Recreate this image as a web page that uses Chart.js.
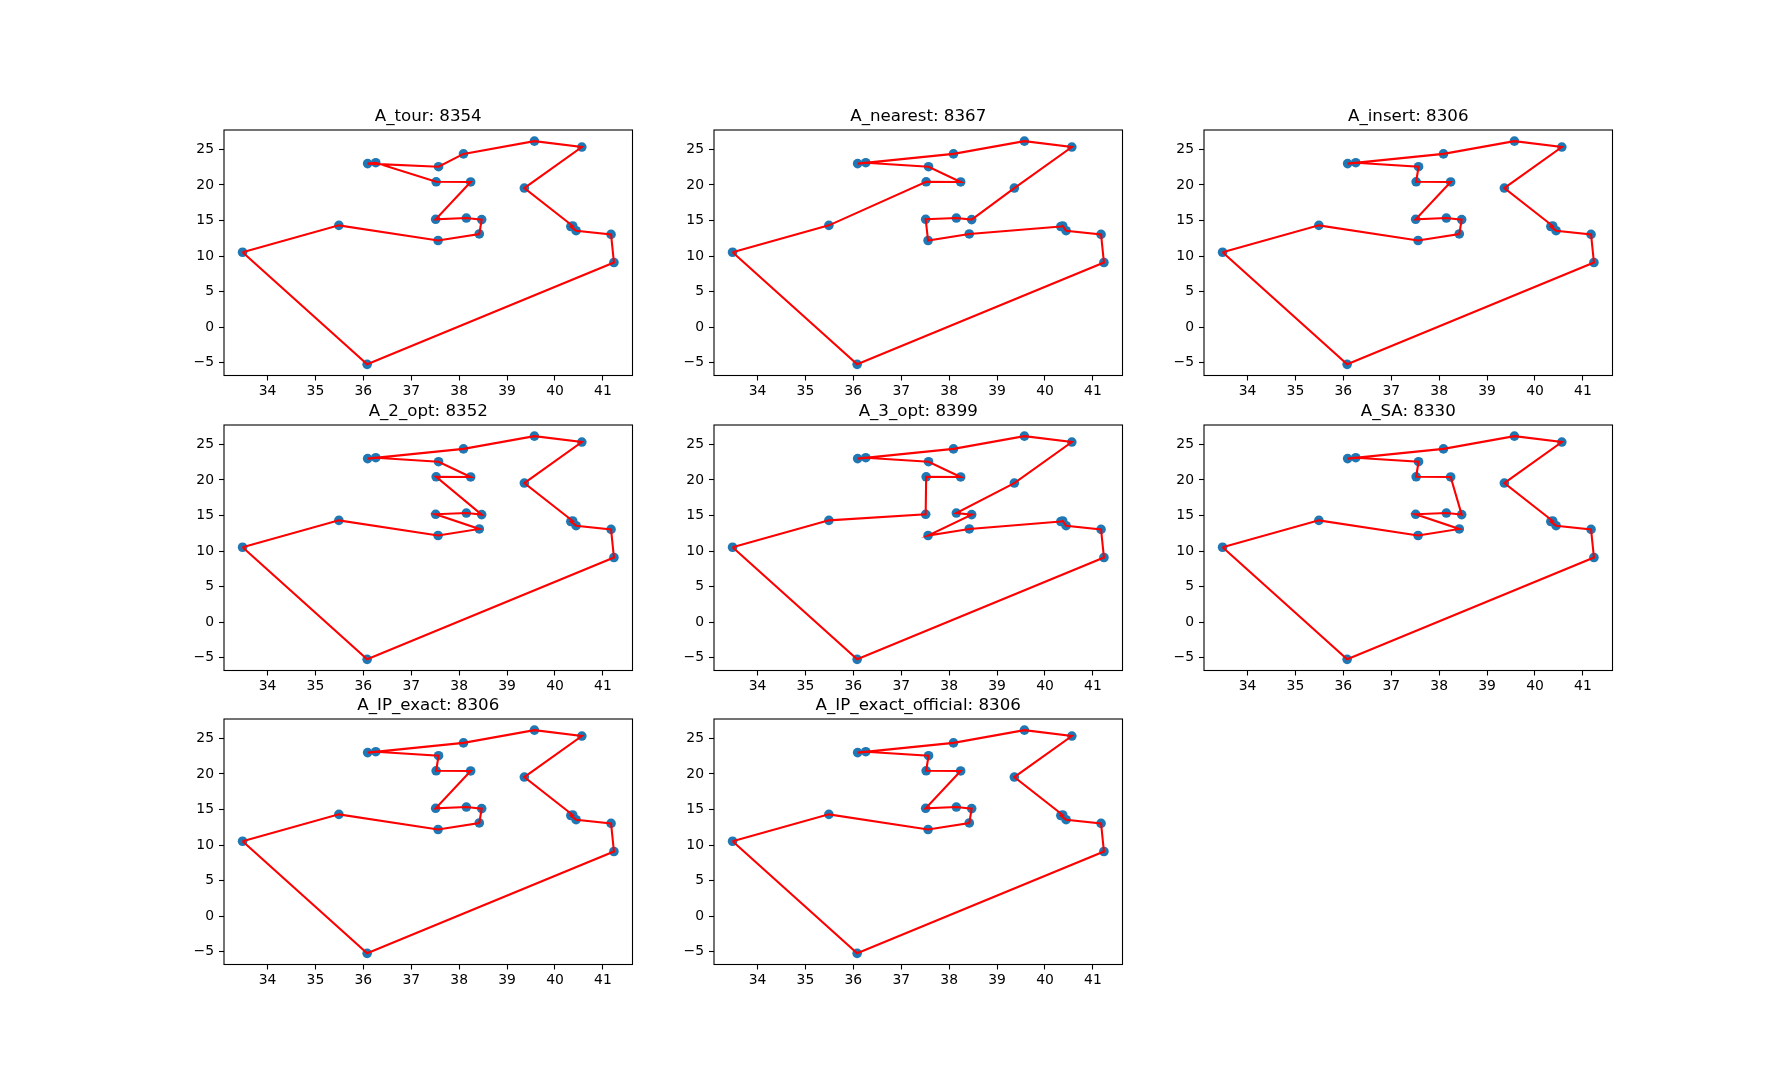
<!DOCTYPE html>
<html>
<head>
<meta charset="utf-8">
<title>TSP tours</title>
<script src="https://cdn.jsdelivr.net/npm/chart.js@4.4.1/dist/chart.umd.min.js"></script>
<style>
  html, body { margin: 0; padding: 0; background: #fff; }
  body { width: 1792px; height: 1084px; position: relative; overflow: hidden; }
  canvas { position: absolute; }
</style>
</head>
<body>
<script>
// city coordinates (22 cities)
const cityX = [38.24, 39.57, 40.56, 36.26, 33.48, 37.56, 38.42, 37.52, 41.23, 41.17, 36.08,
               38.47, 38.15, 37.51, 35.49, 39.36, 38.09, 36.09, 40.44, 40.33, 40.37, 37.57];
const cityY = [20.42, 26.15, 25.32, 23.12, 10.54, 12.19, 13.11, 20.44, 9.10, 13.05, -5.21,
               15.13, 15.35, 15.17, 14.32, 19.56, 24.36, 23.00, 13.57, 14.15, 14.23, 22.56];

const methods = ["A_tour", "A_nearest", "A_insert", "A_2_opt", "A_3_opt", "A_SA", "A_IP_exact", "A_IP_exact_official"];
const lengths = [8354, 8367, 8306, 8352, 8399, 8330, 8306, 8306];

// visiting order per method, 1-based city numbers
const tourA       = [5, 15, 6, 7, 12, 13, 14, 1, 8, 4, 18, 22, 17, 2, 3, 16, 21, 20, 19, 10, 9, 11];
const tourNearest = [5, 15, 8, 1, 22, 4, 18, 17, 2, 3, 16, 12, 13, 14, 6, 7, 20, 21, 19, 10, 9, 11];
const tourInsert  = [5, 15, 6, 7, 12, 13, 14, 1, 8, 22, 4, 18, 17, 2, 3, 16, 21, 20, 19, 10, 9, 11];
const tour2opt    = [5, 15, 6, 7, 14, 13, 12, 8, 1, 22, 4, 18, 17, 2, 3, 16, 21, 20, 19, 10, 9, 11];
const tour3opt    = [5, 15, 14, 8, 1, 22, 4, 18, 17, 2, 3, 16, 13, 12, 6, 7, 20, 21, 19, 10, 9, 11];
const tourSA      = [5, 15, 6, 7, 14, 13, 12, 1, 8, 22, 4, 18, 17, 2, 3, 16, 21, 20, 19, 10, 9, 11];
const tourIP      = [5, 15, 6, 7, 12, 13, 14, 1, 8, 22, 4, 18, 17, 2, 3, 16, 21, 20, 19, 10, 9, 11];
const tourIPoff   = [5, 15, 6, 7, 12, 13, 14, 1, 8, 22, 4, 18, 17, 2, 3, 16, 21, 20, 19, 10, 9, 11];
const tours = [tourA, tourNearest, tourInsert, tour2opt, tour3opt, tourSA, tourIP, tourIPoff];

const xTicks = [34, 35, 36, 37, 38, 39, 40, 41];
const yTicks = [-5, 0, 5, 10, 15, 20, 25];

// axis limits (data range + 5% margin)
const xMin = 33.0925, xMax = 41.6175;
const yMin = -6.778, yMax = 27.718;

Chart.defaults.font.family = "'DejaVu Sans', sans-serif";
Chart.defaults.color = "#000";

// subplot grid 3x3 (left .125, right .9, top .88, bottom .11, spacing .2)
const axW = 408.5, axH = 245.5;
const colLeft = [224, 714, 1204];
const rowTop = [130, 425, 719];
const padL = 60, padT = 30, padB = 35.5, padR = 10.5;

const frame = {
  id: "frame",
  afterDraw(chart) {
    const { ctx, chartArea: a } = chart;
    ctx.save();
    ctx.strokeStyle = "#000";
    ctx.lineWidth = 1.1;
    ctx.strokeRect(a.left, a.top, a.right - a.left, a.bottom - a.top);
    ctx.restore();
  }
};

const cities = cityX.map((x, i) => ({ x: x, y: cityY[i] }));
const minus = v => String(v).replace("-", "\u2212");

methods.forEach((name, k) => {
  const c = document.createElement("canvas");
  const w = padL + axW + padR, h = padT + axH + padB;
  c.width = Math.ceil(w);
  c.height = Math.ceil(h);
  c.style.left = (colLeft[k % 3] - padL) + "px";
  c.style.top = (rowTop[Math.floor(k / 3)] - padT) + "px";
  document.body.appendChild(c);

  const order = tours[k].concat([tours[k][0]]);
  const path = order.map(n => ({ x: cityX[n - 1], y: cityY[n - 1] }));

  new Chart(c, {
    type: "scatter",
    data: {
      datasets: [
        {
          data: path,
          showLine: true,
          borderColor: "#ff0000",
          borderWidth: 2.1,
          pointRadius: 0,
          pointHoverRadius: 0,
          tension: 0
        },
        {
          data: cities,
          backgroundColor: "#1f77b4",
          borderWidth: 0,
          pointRadius: 4.8,
          pointHoverRadius: 4.8
        }
      ]
    },
    options: {
      responsive: false,
      animation: false,
      events: [],
      layout: { padding: { left: 0, top: 0, right: c.width - padL - axW, bottom: 0 } },
      plugins: {
        legend: { display: false },
        tooltip: { enabled: false },
        title: {
          display: true,
          fullSize: false,
          text: name + ": " + lengths[k],
          color: "#000",
          font: { size: 16.67, weight: "normal", lineHeight: 1.2 },
          padding: { top: 6.7, bottom: 3.3 }
        }
      },
      scales: {
        x: {
          type: "linear",
          min: xMin,
          max: xMax,
          afterBuildTicks: s => { s.ticks = xTicks.map(v => ({ value: v })); },
          afterFit: s => { s.height = c.height - padT - axH; s.paddingLeft = 0; s.paddingRight = 0; },
          grid: { drawOnChartArea: false, drawTicks: true, tickLength: 5, tickColor: "#000", tickWidth: 1.1 },
          border: { display: false },
          ticks: { font: { size: 13.9 }, color: "#000", padding: 3, maxRotation: 0, callback: minus }
        },
        y: {
          type: "linear",
          min: yMin,
          max: yMax,
          afterBuildTicks: s => { s.ticks = yTicks.map(v => ({ value: v })); },
          afterFit: s => { s.width = padL; s.paddingTop = 0; s.paddingBottom = 0; },
          grid: { drawOnChartArea: false, drawTicks: true, tickLength: 5, tickColor: "#000", tickWidth: 1.1 },
          border: { display: false },
          ticks: { font: { size: 13.9 }, color: "#000", padding: 5, callback: minus }
        }
      }
    },
    plugins: [frame]
  });
});
</script>
</body>
</html>
